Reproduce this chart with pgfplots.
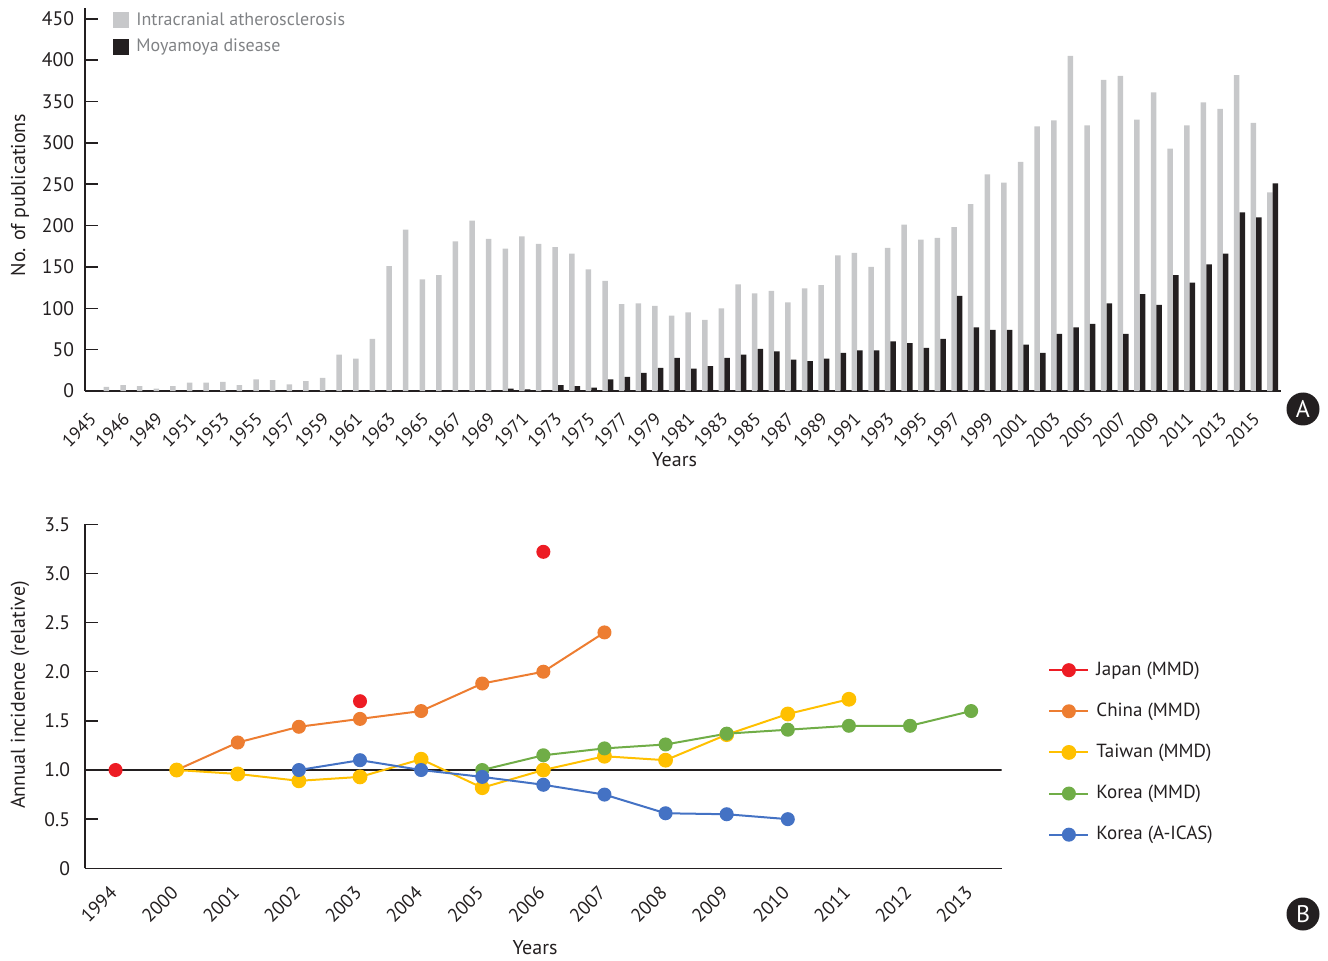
\documentclass[border=0pt]{standalone}
\usepackage{pgfplots}
\pgfplotsset{compat=1.18}
\usepackage{pgfplotstable}
\usepackage{fontspec}
\setmainfont{PT Sans}
\definecolor{dk}{RGB}{35,31,32}
\definecolor{barg}{RGB}{199,200,202}
\definecolor{legg}{RGB}{128,130,133}
\definecolor{cred}{RGB}{237,28,36}
\definecolor{corange}{RGB}{237,125,49}
\definecolor{cyellow}{RGB}{255,192,0}
\definecolor{cgreen}{RGB}{112,173,71}
\definecolor{cblue}{RGB}{68,114,196}

\pgfplotstableread{
x g m
0 5 0
1 7 0
2 6 0
3 3 0
4 6 0
5 10 0
6 10 0
7 11 0
8 7 0
9 14 0
10 13 0
11 8 0
12 12 0
13 16 0
14 44 0
15 39 0
16 63 0
17 151 0
18 195 0
19 135 0
20 140 0
21 181 0
22 206 0
23 184 0
24 172 3
25 187 2
26 178 0
27 174 7
28 166 6
29 147 4
30 133 14
31 105 17
32 106 22
33 103 28
34 91 40
35 95 27
36 86 30
37 100 40
38 129 44
39 118 51
40 121 48
41 107 38
42 124 36
43 128 39
44 164 46
45 167 49
46 150 49
47 173 60
48 201 58
49 183 52
50 185 63
51 198 115
52 226 77
53 262 74
54 252 74
55 277 56
56 320 46
57 327 69
58 405 77
59 321 81
60 376 106
61 381 69
62 328 117
63 361 104
64 293 140
65 321 131
66 349 153
67 341 166
68 382 216
69 324 210
70 240 251
}\pubs

\begin{document}
\begin{tikzpicture}
\useasboundingbox (0,0) rectangle (664pt,480pt);
% ---------------- Panel A ----------------
\begin{axis}[
  at={(42.5pt,284.5pt)}, anchor=south west,
  scale only axis, width=598pt, height=191.5pt,
  xmin=-1.46, xmax=70.5, ymin=0, ymax=463,
  axis x line=bottom, axis y line=left,
  axis line style={-, draw=dk, line width=0.75pt},
  ytick={0,50,...,450},
  /pgf/number format/assume math mode=true,
  tick align=inside, major tick length=6.5pt,
  ytick style={draw=dk, line width=0.75pt},
  xtick style={draw=none},
  xtick={0,2,...,70},
  xticklabels={1945,1946,1949,1951,1953,1955,1957,1959,1961,1963,1965,1967,1969,1971,1973,1975,1977,1979,1981,1983,1985,1987,1989,1991,1993,1995,1997,1999,2001,2003,2005,2007,2009,2011,2013,2015},
  xticklabel style={xshift=-10.5pt, yshift=-3.5pt, rotate=45, anchor=north east, inner sep=0pt, font=\fontsize{9}{10}\selectfont, text=dk},
  yticklabel style={font=\fontsize{9.8}{10}\selectfont, text=dk, xshift=-2pt},
  xlabel={Years}, ylabel={No. of publications},
  xlabel style={at={(axis description cs:0.493,-0.18)}, anchor=center, font=\fontsize{10}{12}\selectfont, text=dk},
  ylabel style={at={(axis description cs:-0.0543,0.512)}, anchor=center, rotate=0, font=\fontsize{10}{12}\selectfont, text=dk},
  ybar, bar width=2.75pt,
  legend cell align=left,
  legend style={at={(axis description cs:0.0234,0.995)}, anchor=north west, draw=none, fill=none,
    inner sep=0pt, row sep=3.5pt, font=\fontsize{9}{10}\selectfont, text=legg,
    nodes={inner sep=1pt},
    /tikz/every odd column/.append style={column sep=2.5pt}},
]
\addplot[fill=barg, draw=none, bar shift=-1.4pt,
  legend image code/.code={\fill[barg] (0pt,-4pt) rectangle (8pt,4pt);}] table[x=x,y=g]{\pubs};
\addlegendentry{Intracranial atherosclerosis}
\addplot[fill=dk, draw=none, bar shift=1.4pt,
  legend image code/.code={\fill[dk] (0pt,-4pt) rectangle (8pt,4pt);}] table[x=x,y=m]{\pubs};
\addlegendentry{Moyamoya disease}
\end{axis}

% ---------------- Panel B ----------------
\begin{axis}[
  at={(42.5pt,45.85pt)}, anchor=south west,
  scale only axis, width=458.35pt, height=172pt,
  xmin=-0.5, xmax=14.5, ymin=0, ymax=3.5,
  axis x line=bottom, axis y line=left,
  axis line style={-, draw=dk, line width=0.75pt},
  ytick={0,0.5,1,1.5,2,2.5,3,3.5},
  yticklabels={0,0.5,1.0,1.5,2.0,2.5,3.0,3.5},
  tick align=inside, major tick length=6.5pt,
  ytick style={draw=dk, line width=0.75pt},
  xtick style={draw=none},
  xtick={0,...,14},
  xticklabels={1994,2000,2001,2002,2003,2004,2005,2006,2007,2008,2009,2010,2011,2012,2013},
  xticklabel style={xshift=-3.5pt, yshift=-8pt, rotate=45, anchor=north east, inner sep=0pt, font=\fontsize{9.5}{10}\selectfont, text=dk},
  yticklabel style={font=\fontsize{9.8}{10}\selectfont, text=dk, xshift=-4pt},
  xlabel={Years}, ylabel={Annual incidence (relative)},
  xlabel style={at={(axis description cs:0.491,-0.232)}, anchor=center, font=\fontsize{10}{12}\selectfont, text=dk},
  ylabel style={at={(axis description cs:-0.0709,0.504)}, anchor=center, rotate=0, font=\fontsize{10}{12}\selectfont, text=dk},
  legend cell align=left,
  legend image code/.code={\draw[mark repeat=2,mark phase=2,#1] plot coordinates {(0pt,0pt)(9.75pt,0pt)(19.5pt,0pt)};},
  legend style={at={(axis description cs:1.0505,0.607)}, anchor=north west, draw=none, fill=none,
    inner sep=0pt, row sep=10.3pt, font=\fontsize{9.5}{10}\selectfont, text=dk,
    nodes={inner sep=1pt},
    /tikz/every odd column/.append style={column sep=2.5pt}},
  unbounded coords=jump,
  every axis plot/.append style={line width=1pt, mark=*, mark size=3pt},
]
\addplot[dk, line width=0.75pt, mark=none, forget plot] coordinates {(-0.5,1) (14.5,1)};
\addplot[cred, mark options={fill=cred, draw=cred}] coordinates {(0,1.0) (1,nan) (4,1.70) (5,nan) (7,3.22)};
\addlegendentry{Japan (MMD)}
\addplot[corange, mark options={fill=corange, draw=corange}] coordinates {(1,1.0) (2,1.28) (3,1.44) (4,1.52) (5,1.60) (6,1.88) (7,2.0) (8,2.40)};
\addlegendentry{China (MMD)}
\addplot[cyellow, mark options={fill=cyellow, draw=cyellow}, mark size=3.2pt] coordinates {(1,1.0) (2,0.96) (3,0.89) (4,0.93) (5,1.11) (6,0.82) (7,1.0) (8,1.14) (9,1.10) (10,1.36) (11,1.57) (12,1.72)};
\addlegendentry{Taiwan (MMD)}
\addplot[cgreen, mark options={fill=cgreen, draw=cgreen}] coordinates {(6,1.0) (7,1.15) (8,1.22) (9,1.26) (10,1.37) (11,1.41) (12,1.45) (13,1.45) (14,1.60)};
\addlegendentry{Korea (MMD)}
\addplot[cblue, mark options={fill=cblue, draw=cblue}] coordinates {(3,1.0) (4,1.10) (5,1.0) (6,0.93) (7,0.85) (8,0.75) (9,0.56) (10,0.55) (11,0.50)};
\addlegendentry{Korea (A-ICAS)}
\end{axis}

\node[circle, fill=dk, text=white, minimum size=16.5pt, inner sep=0pt, font=\fontsize{12}{12}\selectfont] at (651.5pt,275.5pt) {A};
\node[circle, fill=dk, text=white, minimum size=16.5pt, inner sep=0pt, font=\fontsize{12}{12}\selectfont] at (651.5pt,23pt) {B};
\end{tikzpicture}
\end{document}
